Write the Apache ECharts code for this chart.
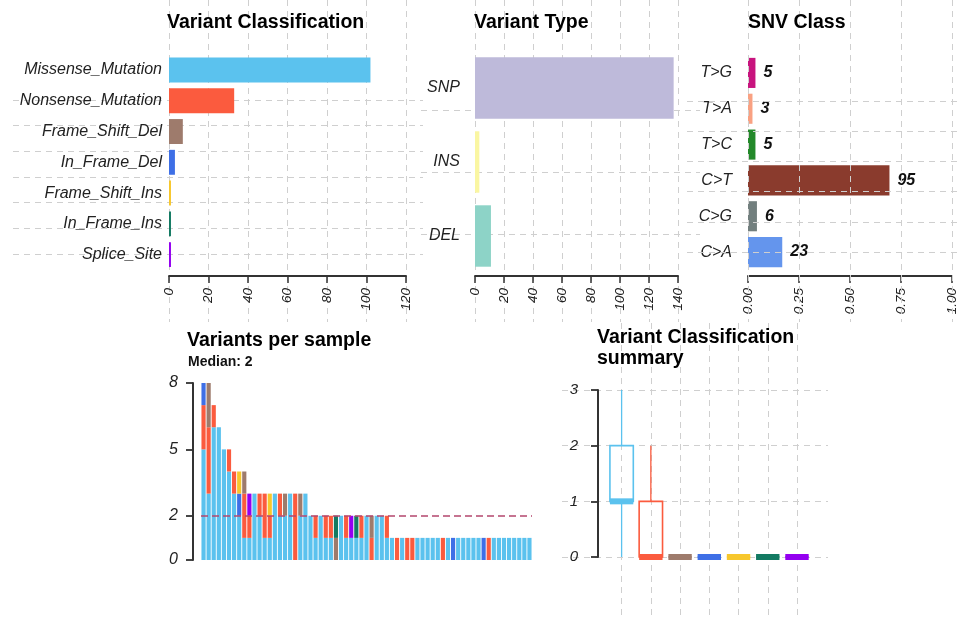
<!DOCTYPE html>
<html><head><meta charset="utf-8">
<script src="https://cdn.jsdelivr.net/npm/echarts@6/dist/echarts.min.js"></script>
<style>html,body{margin:0;padding:0;background:#fff}#c{width:961px;height:643px}</style>
</head><body><div id="c"></div><script>
// ---------- data ----------
const vcCategories = ['Missense_Mutation','Nonsense_Mutation','Frame_Shift_Del','In_Frame_Del','Frame_Shift_Ins','In_Frame_Ins','Splice_Site'];
const vcCounts = [102, 33, 7, 3, 1, 1, 1];
const vcColors = ['#5BC2EE','#FB5B3E','#9E7B6C','#3E6FE6','#F7C72C','#137A62','#9400F0'];

const vtCategories = ['SNP','INS','DEL'];
const vtCounts = [137, 3, 11];
const vtColors = ['#BEBADA','#FAF6A2','#8DD3C7'];

const snvCategories = ['T>G','T>A','T>C','C>T','C>G','C>A'];
const snvCounts = [5, 3, 5, 95, 6, 23];
const snvColors = ['#C8147E','#F9A182','#23892A','#8A3B2D','#727F7E','#6495ED'];

const xTicksVC = [0, 120, 20];
const xTicksVT = [0, 140, 20];
const xTicksSNV = [0, 1, 0.25];

// per-sample stacked counts (65 samples, sorted by total)
const sMissense = [5,3,6,6,5,4,3,2,1, 1,3,2,1,1,3,2,2,3,0,2,3, 2,1,2,1,1,0,2,1,1,1,1,2,0,2,2,1,
  1,0,1,0,0,1,1,1,1,1,0,1,0,1,1,1,1,1,0,0,1,1,1,1,1,1,1,1];
const sNonsense = [2,3,1,0,0,1,1,0,2, 1,0,1,2,1,0,1,0,0,3,0,0, 0,1,0,1,1,0,0,1,0,0,1,0,1,0,0,1,
  0,1,0,1,1,0,0,0,0,0,1,0,0,0,0,0,0,0,0,1,0,0,0,0,0,0,0,0];
const sFrameShiftDel = [0,2,0,0,0,0,0,0,1, 0,0,0,0,0,0,0,1,0,0,1,0, 0,0,0,0,0,1,0,0,0,0,0,0,1,0,0,0,
  0,0,0,0,0,0,0,0,0,0,0,0,0,0,0,0,0,0,0,0,0,0,0,0,0,0,0,0];
const sInFrameDel = [1,0,0,0,0,0,0,1,0, 0,0,0,0,0,0,0,0,0,0,0,0, 0,0,0,0,0,0,0,0,0,0,0,0,0,0,0,0,
  0,0,0,0,0,0,0,0,0,0,0,0,1,0,0,0,0,0,1,0,0,0,0,0,0,0,0,0];
const sFrameShiftIns = [0,0,0,0,0,0,0,1,0, 0,0,0,0,1,0,0,0,0,0,0,0, 0,0,0,0,0,0,0,0,0,0,0,0,0,0,0,0,
  0,0,0,0,0,0,0,0,0,0,0,0,0,0,0,0,0,0,0,0,0,0,0,0,0,0,0,0];
const sInFrameIns = [0,0,0,0,0,0,0,0,0, 0,0,0,0,0,0,0,0,0,0,0,0, 0,0,0,0,0,1,0,0,0,1,0,0,0,0,0,0,
  0,0,0,0,0,0,0,0,0,0,0,0,0,0,0,0,0,0,0,0,0,0,0,0,0,0,0,0];
const sSplice = [0,0,0,0,0,0,0,0,0, 1,0,0,0,0,0,0,0,0,0,0,0, 0,0,0,0,0,0,0,0,1,0,0,0,0,0,0,0,
  0,0,0,0,0,0,0,0,0,0,0,0,0,0,0,0,0,0,0,0,0,0,0,0,0,0,0,0];
const sampleMedian = [2];
const sampleYTicks = [0, 2, 5, 8];

// boxplot summary per variant classification
const boxMin    = [0, 0, 0, 0, 0, 0, 0];
const boxQ1     = [1, 0, 0, 0, 0, 0, 0];
const boxMedian = [1, 0, 0, 0, 0, 0, 0];
const boxQ3     = [2, 1, 0, 0, 0, 0, 0];
const boxMax    = [3, 2, 0, 0, 0, 0, 0];

// ---------- styling helpers ----------
const FONT = 'Liberation Sans, Arial, sans-serif';
const GRIDLINE = {show: true, lineStyle: {color: '#cfcfcf', type: [6, 5], width: 1}};
const AXLINE = {show: true, lineStyle: {color: '#333', width: 1.8}};
const hidden = (gi, type) => ({gridIndex: gi, type: type || 'value', show: false});
const tickLbl = {fontFamily: FONT, fontStyle: 'italic', fontSize: 13.5, color: '#222'};

const sampleIds = sMissense.map((_, i) => 'S' + (i + 1));
const snvTotal = snvCounts.reduce((a, b) => a + b, 0);

const grids = [
  {left: 169, right: 555, top: 54.6, bottom: 373},   // 0 VC bars
  {left: 169, right: 555, top: 0, bottom: 321},      // 1 VC vertical lines
  {left: 13, right: 538, top: 100, bottom: 389},     // 2 VC horizontal lines
  {left: 475, right: 283, top: 51, bottom: 370},     // 3 VT bars
  {left: 475, right: 283, top: 0, bottom: 321},      // 4 VT vertical
  {left: 421, right: 261, top: 110, bottom: 409},    // 5 VT horizontal
  {left: 748, right: 9, top: 55, bottom: 373},       // 6 SNV bars
  {left: 748, right: 9, top: 0, bottom: 321},        // 7 SNV vertical
  {left: 687, right: 0, top: 101, bottom: 391},      // 8 SNV horizontal
  {left: 201, right: 429, top: 383, bottom: 83},     // 9 per-sample
  {left: 607, right: 149.4, top: 390, bottom: 86},   // 10 boxplot
  {left: 621.7, right: 164, top: 323, bottom: 28},   // 11 box vertical lines
  {left: 562, right: 133, top: 390, bottom: 86}      // 12 box horizontal lines
];

function valueX(gi, t, fmt, offset) {
  return {gridIndex: gi, type: 'value', min: t[0], max: t[1], interval: t[2], position: 'bottom', offset: offset,
    axisLine: AXLINE, axisTick: {show: true, length: 7, lineStyle: {color: '#333', width: 1.5}},
    axisLabel: Object.assign({rotate: 90, margin: 12, formatter: fmt}, tickLbl), splitLine: {show: false}};
}
function vGridX(gi, t, z) {
  return {gridIndex: gi, type: 'value', min: t[0], max: t[1], interval: t[2], z: z || 0,
    axisLine: {show: false}, axisTick: {show: false}, axisLabel: {show: false}, splitLine: GRIDLINE};
}
function hGridY(gi, n, z) {
  return {gridIndex: gi, type: 'value', min: 0, max: n, interval: 1, z: z || 0,
    axisLine: {show: false}, axisTick: {show: false}, axisLabel: {show: false}, splitLine: GRIDLINE};
}
function catY(gi, cats, margin) {
  return {gridIndex: gi, type: 'category', data: cats, inverse: true,
    axisLine: {show: false}, axisTick: {show: false}, splitLine: {show: false},
    axisLabel: {margin: margin, fontFamily: FONT, fontStyle: 'italic', fontSize: 16, color: '#222'}};
}

const xAxes = [
  valueX(0, xTicksVC, v => String(v), 6),
  vGridX(1, xTicksVC),
  hidden(2),
  valueX(3, xTicksVT, v => String(v), 3),
  vGridX(4, xTicksVT),
  hidden(5),
  valueX(6, xTicksSNV, v => v.toFixed(2), 6),
  vGridX(7, xTicksSNV, 5),
  hidden(8),
  {gridIndex: 9, type: 'category', data: sampleIds, show: false},
  {gridIndex: 10, type: 'category', data: vcCategories, show: false},
  vGridX(11, [0, 6, 1]),
  hidden(12)
];
const yAxes = [
  catY(0, vcCategories, 7),
  hidden(1),
  hGridY(2, 6),
  catY(3, vtCategories, 15),
  hidden(4),
  hGridY(5, 2),
  catY(6, snvCategories, 16),
  hidden(7),
  hGridY(8, 5, 5),
  {gridIndex: 9, type: 'value', min: 0, max: 8, offset: 8,
    axisLine: {show: true, lineStyle: {color: '#333', width: 2}},
    axisTick: {show: true, length: 7, customValues: sampleYTicks, lineStyle: {color: '#333', width: 1.8}},
    axisLabel: {margin: 15, customValues: sampleYTicks, fontFamily: FONT, fontStyle: 'italic', fontSize: 16, color: '#222'},
    splitLine: {show: false}},
  {gridIndex: 10, type: 'value', min: 0, max: 3, interval: 1, offset: 9,
    axisLine: {show: true, lineStyle: {color: '#333', width: 2}},
    axisTick: {show: true, length: 7, lineStyle: {color: '#333', width: 1.8}},
    axisLabel: {margin: 20, fontFamily: FONT, fontStyle: 'italic', fontSize: 15, color: '#222'},
    splitLine: {show: false}},
  hidden(11),
  hGridY(12, 3)
];

const sampleSeriesDefs = [
  ['Missense_Mutation', sMissense], ['Nonsense_Mutation', sNonsense], ['Frame_Shift_Del', sFrameShiftDel],
  ['In_Frame_Del', sInFrameDel], ['Frame_Shift_Ins', sFrameShiftIns], ['In_Frame_Ins', sInFrameIns], ['Splice_Site', sSplice]
];
const sampleSeries = sampleSeriesDefs.map((d, k) => ({
  type: 'bar', name: d[0], xAxisIndex: 9, yAxisIndex: 9, stack: 'samp', data: d[1],
  barCategoryGap: '18%', itemStyle: {color: vcColors[k]},
  markLine: k === 0 ? {symbol: 'none', silent: true, label: {show: false},
    lineStyle: {type: [7, 4], color: '#B4476E', width: 1.6}, data: [{yAxis: sampleMedian[0]}]} : undefined
}));

const boxData = vcCategories.map((c, i) => [i, boxMin[i], boxQ1[i], boxMedian[i], boxQ3[i], boxMax[i]]);
function renderBox(params, api) {
  const i = api.value(0);
  const pMin = api.coord([i, api.value(1)]);
  const pQ1 = api.coord([i, api.value(2)]);
  const pMed = api.coord([i, api.value(3)]);
  const pQ3 = api.coord([i, api.value(4)]);
  const pMax = api.coord([i, api.value(5)]);
  const w = api.size([1, 0])[0] * 0.8;
  const col = vcColors[params.dataIndex];
  const x = pQ1[0];
  return {type: 'group', children: [
    {type: 'line', shape: {x1: x, y1: pMin[1], x2: x, y2: pQ1[1]}, style: {stroke: col, lineWidth: 1.3}},
    {type: 'line', shape: {x1: x, y1: pQ3[1], x2: x, y2: pMax[1]}, style: {stroke: col, lineWidth: 1.3}},
    {type: 'rect', shape: {x: x - w / 2, y: pQ3[1], width: w, height: pQ1[1] - pQ3[1]}, style: {stroke: col, fill: 'none', lineWidth: 1.6}},
    {type: 'rect', shape: {x: x - w / 2, y: pMed[1] - 3, width: w, height: 6}, style: {fill: col}}
  ]};
}

const titleStyle = {fontFamily: FONT, fontWeight: 'bold', fontSize: 19.5, color: '#000'};
const option = {
  animation: false,
  backgroundColor: '#fff',
  title: [
    {text: 'Variant Classification', left: 167, top: 13, padding: 0, textStyle: titleStyle},
    {text: 'Variant Type', left: 474, top: 13, padding: 0, textStyle: titleStyle},
    {text: 'SNV Class', left: 748, top: 13, padding: 0, textStyle: titleStyle},
    {text: 'Variants per sample', left: 187, top: 331, padding: 0, textStyle: titleStyle},
    {text: 'Median: ' + sampleMedian[0], left: 188, top: 355, padding: 0,
      textStyle: {fontFamily: FONT, fontWeight: 'bold', fontSize: 14, color: '#111'}},
    {text: 'Variant Classification\nsummary', left: 597, top: 327, padding: 0,
      textStyle: Object.assign({lineHeight: 21}, titleStyle)}
  ],
  grid: grids,
  xAxis: xAxes,
  yAxis: yAxes,
  series: [
    {type: 'bar', xAxisIndex: 0, yAxisIndex: 0, barCategoryGap: '19%',
      data: vcCounts.map((v, i) => ({value: v, itemStyle: {color: vcColors[i]}}))},
    {type: 'bar', xAxisIndex: 3, yAxisIndex: 3, barCategoryGap: '17%',
      data: vtCounts.map((v, i) => ({value: v, itemStyle: {color: vtColors[i]}}))},
    {type: 'bar', xAxisIndex: 6, yAxisIndex: 6, barCategoryGap: '16%',
      data: snvCounts.map((v, i) => ({value: v / snvTotal, itemStyle: {color: snvColors[i]}})),
      label: {show: true, position: 'right', distance: 8, formatter: p => String(snvCounts[p.dataIndex]),
        fontFamily: FONT, fontStyle: 'italic', fontWeight: 'bold', fontSize: 16, color: '#111'}},
    ...sampleSeries,
    {type: 'custom', xAxisIndex: 10, yAxisIndex: 10, renderItem: renderBox, data: boxData,
      encode: {x: 0, y: [1, 2, 3, 4, 5]}, z: 3}
  ]
};
const chart = echarts.init(document.getElementById('c'), null, {renderer: 'canvas'});
chart.setOption(option);
</script></body></html>
